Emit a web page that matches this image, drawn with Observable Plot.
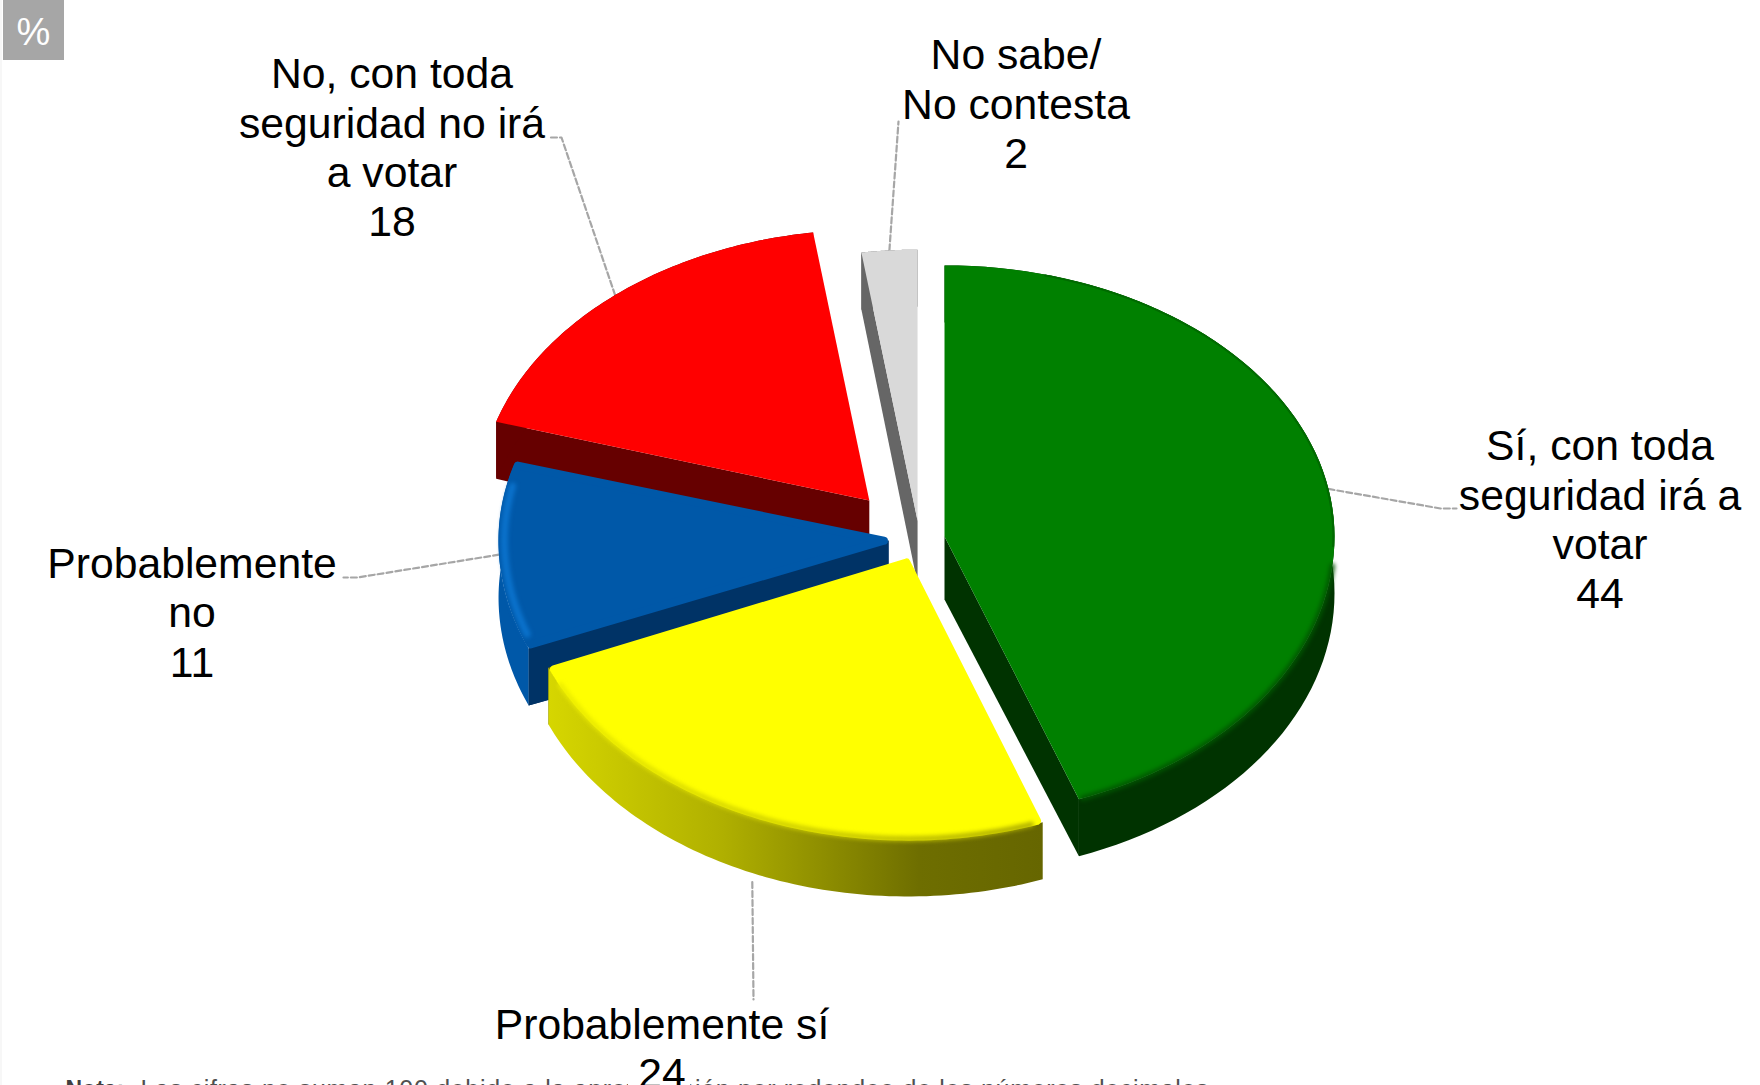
<!DOCTYPE html>
<html><head><meta charset="utf-8">
<script src="https://cdn.jsdelivr.net/npm/d3@7"></script>
<script src="https://cdn.jsdelivr.net/npm/@observablehq/plot@0.6"></script>
<style>
html,body{margin:0;padding:0;background:#fff;overflow:hidden}
svg{display:block}
</style></head><body><div id="chart"></div>
<script>
// data: shares (the printed labels are rounded)
const categories = ["Sí, con toda seguridad irá a votar","Probablemente sí","Probablemente no","No, con toda seguridad no irá a votar","No sabe/ No contesta"];
const values = [44.4,24.3,11,18,2.3];
const labelLines = ["Sí, con toda\nseguridad irá a\nvotar\n44","Probablemente sí\n24","Probablemente\nno\n11","No, con toda\nseguridad no irá\na votar\n18","No sabe/\nNo contesta\n2"];
const topColors = ["#008000","#ffff00","#0058a8","#ff0000","#d9d9d9"];
const wallColors = ["#003300","url(#yellowWall)","#0058a8","#660000","#666666"];
const cutColors = ["#003300","#666600","#003366","#660000","#666666"];
const roundedSlices = [1,2];

// layout of the 3-D pie
const W = 1760, H = 1085, C = [919,541], RX = 390, RY_BACK = 271, RY_FRONT = 280, DEPTH = 57, CUT_EXTRA = 6;
const explode = [25.4,28,31,77,27];
const nudgeY = [-2,0,-2,0,-2];
const labelAt = [[1599.5,518],[661.5,1047],[191.5,611],[391.5,146],[1015.5,102.5]];
const elbows = [[[1440,508],[1456,508]],[[753,999]],[[357,577],[343,577]],[[561,137],[550,137]],[[898,121]]];

const total = d3.sum(values);
let cum = 0;
const slices = values.map((v,i)=>{
  const a0 = cum/total*2*Math.PI; cum += v; const a1 = cum/total*2*Math.PI;
  const mid = (a0+a1)/2;
  return {i,a0,a1,mid,cx:C[0]+explode[i]*Math.sin(mid),cy:C[1]-explode[i]*Math.cos(mid)*0.7+nudgeY[i]};
});
const pt = (s,a,dz=0,k=1)=>{
  const c = Math.cos(a);
  return {x:s.cx+k*RX*Math.sin(a),y:s.cy-k*(c>0?RY_BACK:RY_FRONT)*c+dz};
};
const arc = (s,a0,a1,dz=0,k=1)=>d3.range(0,81).map(j=>pt(s,a0+(a1-a0)*j/80,dz,k));
const topPoly = s=>[{x:s.cx,y:s.cy},...arc(s,s.a0,s.a1)];
const insetPoly = s=>{
  const m = pt(s,s.mid,0,0.012);
  return [m,...arc(s,s.a0+0.012,s.a1-0.012,0,0.99),m];
};
const wallPoly = s=>[...arc(s,s.a0,s.a1),...arc(s,s.a0,s.a1,DEPTH).reverse()];
const cutPoly = (s,a)=>{const p=pt(s,a);return [{x:s.cx,y:s.cy},p,{x:p.x,y:p.y+DEPTH},{x:s.cx,y:s.cy+DEPTH+CUT_EXTRA}];};
const poly = (d,fill)=>Plot.line(d,{x:"x",y:"y",fill,stroke:"none"});
const deg = d=>d*Math.PI/180;

const marks = [];
marks.push(()=>{
  const defs = d3.create("svg:defs");
  const g = defs.append("linearGradient").attr("id","yellowWall").attr("x1","0").attr("x2","1").attr("y1","0").attr("y2","0");
  [[0,"#d6d600"],[0.35,"#b0b000"],[0.75,"#6e6e00"],[1,"#666600"]].forEach(([o,c])=>g.append("stop").attr("offset",o).attr("stop-color",c));
  const b = defs.append("linearGradient").attr("id","yellowBevel").attr("x1","0").attr("x2","1").attr("y1","0").attr("y2","0");
  [[0,"#ecec00"],[0.5,"#cccc00"],[1,"#a8a800"]].forEach(([o,c])=>b.append("stop").attr("offset",o).attr("stop-color",c));
  return defs.node();
});
marks.push(Plot.rect([{x1:0,x2:2,y1:0,y2:H}],{x1:"x1",x2:"x2",y1:"y1",y2:"y2",fill:"#f7f7f7"}));
// leaders
slices.forEach((s,i)=>{
  const a = pt(s,s.mid,(i===1)?DEPTH+9:0);
  marks.push(Plot.line([a,...elbows[i].map(([x,y])=>({x,y}))],{x:"x",y:"y",stroke:"#a6a6a6",strokeWidth:2.2,strokeDasharray:"6,3"}));
});
const softLine = (d,stroke,strokeWidth)=>Plot.line(d,{x:"x",y:"y",stroke,strokeWidth});
// painter's order: back to front
[4,3,2,1,0].forEach(i=>{
  const s = slices[i];
  if(i===3||i===4||i===2) marks.push(poly(cutPoly(s,s.a0),cutColors[i]));
  if(i===0) marks.push(poly(cutPoly(s,s.a0),cutColors[i]),poly(cutPoly(s,s.a1),cutColors[i]));
  if(i===1) marks.push(poly(cutPoly(s,s.a1),cutColors[i]));
  marks.push(poly(wallPoly(s),wallColors[i]));
  if(i===2) marks.push(poly(cutPoly(s,s.a0),cutColors[i]));
  if(roundedSlices.includes(i)) {
    marks.push(Plot.line(insetPoly(s),{x:"x",y:"y",fill:topColors[i],stroke:topColors[i],strokeWidth:8,strokeLinejoin:"round"}));
  } else {
    marks.push(poly(topPoly(s),topColors[i]));
  }
  if(i===0) {
    marks.push(Plot.line(arc(s,deg(15),deg(92),0,0.997),{x:"x",y:"y",stroke:"#006a00",strokeWidth:2}));
    marks.push(softLine(arc(s,deg(96),s.a1-0.01,0,1),"#005500",5));
  }
  if(i===1) marks.push(softLine(arc(s,s.a0+0.03,s.a1-0.07,0,0.998),"url(#yellowBevel)",5));
  if(i===2) marks.push(softLine(arc(s,s.a0+0.05,s.a1-0.09,0,0.985),"#0a72cc",7));
});
// labels
const labels = labelLines.map((t,i)=>({t,x:labelAt[i][0],y:labelAt[i][1]}));
const noteLead = "Nota:";
const note = "Las cifras no suman 100 debido a la aproximación por redondeo de los números decimales";
marks.push(
  Plot.text([{x:65,y:1089}],{x:"x",y:"y",text:()=>noteLead,textAnchor:"start",fontSize:23,fontWeight:"bold",fill:"#404040"}),
  Plot.text([{x:140,y:1089}],{x:"x",y:"y",text:()=>note,textAnchor:"start",fontSize:25,fill:"#505050"}),
  Plot.rect([{x1:628,x2:690,y1:1060,y2:H}],{x1:"x1",x2:"x2",y1:"y1",y2:"y2",fill:"#fff"}),
  Plot.text(labels,{x:"x",y:"y",text:"t",fontSize:42.7,lineHeight:1.157,fill:"#000"}),
  Plot.rect([{x1:3,x2:64,y1:0,y2:60}],{x1:"x1",x2:"x2",y1:"y1",y2:"y2",fill:"#a6a6a6"}),
  Plot.text([{x:33,y:32}],{x:"x",y:"y",text:()=>"%",fontSize:38,fill:"#fff"})
);
const chart = Plot.plot({
  width:W,height:H,margin:0,style:{background:"#fff",fontFamily:"Liberation Sans"},
  x:{domain:[0,W],range:[0,W],axis:null},
  y:{domain:[0,H],range:[0,H],axis:null},
  marks
});
// soften the bevels, and stretch the note to its printed width
["#005500","url(#yellowBevel)","#0a72cc"].forEach(c=>{
  chart.querySelectorAll(`[stroke="${c}"]`).forEach(el=>{el.style.filter="blur(2px)";});
});
chart.querySelectorAll("text").forEach(el=>{
  if(el.textContent.startsWith("Las cifras")) el.style.letterSpacing="0.68px";
});
document.getElementById("chart").append(chart);
</script></body></html>
